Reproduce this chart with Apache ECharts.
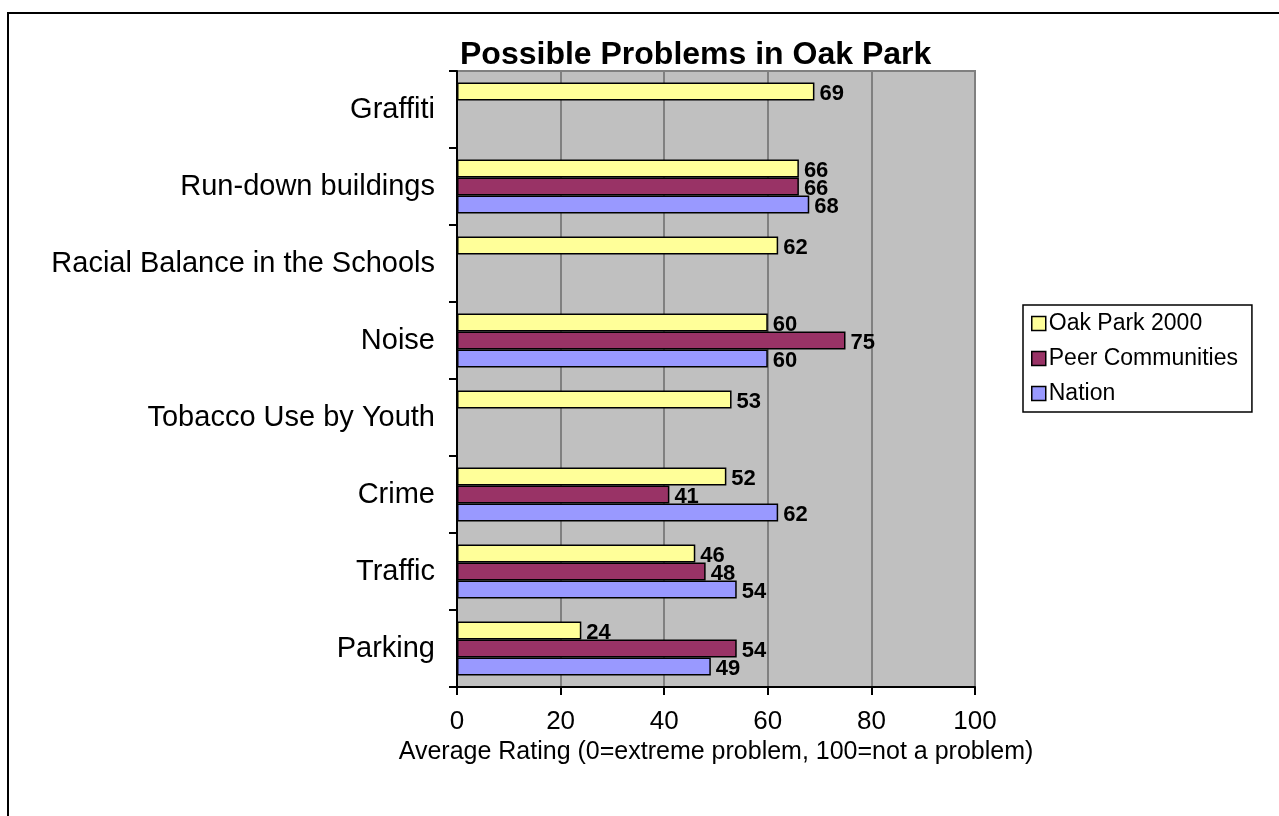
<!DOCTYPE html>
<html>
<head>
<meta charset="utf-8">
<script src="https://cdn.jsdelivr.net/npm/echarts@6/dist/echarts.min.js"></script>
<style>
html,body{margin:0;padding:0;background:#fff;}
#chart{width:1279px;height:816px;}
</style>
</head>
<body>
<div id="chart"></div>
<script>
const categories = ['Graffiti','Run-down buildings','Racial Balance in the Schools','Noise','Tobacco Use by Youth','Crime','Traffic','Parking'];
const oakPark2000 = [69, 66, 62, 60, 53, 52, 46, 24];
const peerCommunities = [null, 66, null, 75, null, 41, 48, 54];
const nation = [null, 68, null, 60, null, 62, 54, 49];
const seriesNames = ['Oak Park 2000','Peer Communities','Nation'];
const xTicks = [0, 20, 40, 60, 80, 100];

const FONT = '"Liberation Sans", Arial, sans-serif';
const colors = ['#FFFF99', '#993366', '#9999FF'];
const dataSets = [oakPark2000, peerCommunities, nation];

const chart = echarts.init(document.getElementById('chart'));
chart.setOption({
  animation: false,
  backgroundColor: '#ffffff',
  textStyle: { fontFamily: FONT },
  title: {
    text: 'Possible Problems in Oak Park',
    left: 455, top: 34,
    textStyle: { fontFamily: FONT, fontSize: 32, fontWeight: 'bold', color: '#000' }
  },
  graphic: [{
    type: 'rect', z: -1,
    shape: { x: 8, y: 13, width: 2000, height: 2000 },
    style: { fill: 'none', stroke: '#000', lineWidth: 2 }
  }],
  legend: {
    orient: 'vertical',
    left: 1023, top: 305,
    data: seriesNames,
    backgroundColor: '#fff',
    borderColor: '#000', borderWidth: 1.5,
    padding: [7, 14, 7, 8],
    itemWidth: 14, itemHeight: 14, itemGap: 12,
    icon: 'rect',
    itemStyle: { borderColor: '#000', borderWidth: 1.5 },
    textStyle: { fontFamily: FONT, fontSize: 23, color: '#000', padding: [0, 0, 0, -2] }
  },
  grid: {
    left: 457, right: 304, top: 71, bottom: 129,
    show: true, backgroundColor: '#C0C0C0', borderColor: '#808080', borderWidth: 2
  },
  xAxis: {
    type: 'value', min: 0, max: 100, interval: 20,
    name: 'Average Rating (0=extreme problem, 100=not a problem)',
    nameLocation: 'middle', nameGap: 53,
    nameTextStyle: { fontFamily: FONT, fontSize: 25, color: '#000' },
    axisLine: { show: true, lineStyle: { color: '#000', width: 2 } },
    axisTick: { show: true, length: 8, lineStyle: { color: '#000', width: 2 } },
    axisLabel: { fontFamily: FONT, fontSize: 26, color: '#000', margin: 22,
      formatter: v => xTicks.includes(v) ? String(v) : '' },
    splitLine: { show: true, lineStyle: { color: '#808080', width: 2 } }
  },
  yAxis: {
    type: 'category', inverse: true, data: categories,
    axisLine: { show: true, lineStyle: { color: '#000', width: 2 } },
    axisTick: { show: true, length: 8, lineStyle: { color: '#000', width: 2 } },
    axisLabel: { fontFamily: FONT, fontSize: 29, color: '#000', margin: 22 },
    splitLine: { show: false }
  },
  series: seriesNames.map((name, i) => ({
    name, type: 'bar',
    data: dataSets[i],
    barGap: '0%', barCategoryGap: '30%',
    itemStyle: { color: colors[i], borderColor: '#000', borderWidth: 1.5 },
    label: {
      show: true, position: 'right', distance: 5, offset: [0, 2],
      fontFamily: FONT, fontSize: 22, fontWeight: 'bold', color: '#000'
    }
  }))
});
</script>
</body>
</html>
